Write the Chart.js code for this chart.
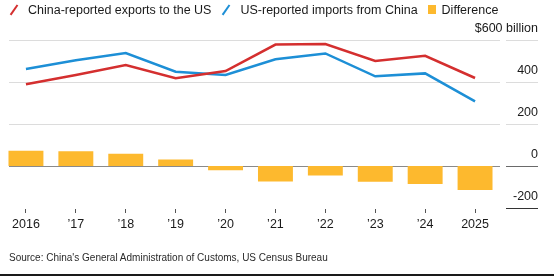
<!DOCTYPE html>
<html><head><meta charset="utf-8">
<script src="https://cdn.jsdelivr.net/npm/chart.js@4.4.1/dist/chart.umd.min.js"></script>
<style>
html,body{margin:0;padding:0;background:#fff;}
#wrap{position:relative;width:554px;height:276px;overflow:hidden;font-family:"Liberation Sans",Arial,sans-serif;color:#1a1a1a;}
#c{position:absolute;left:0;top:0;}
#legend{position:absolute;left:9px;top:1px;height:17px;display:flex;align-items:center;font-size:12.5px;white-space:nowrap;}
.item{display:flex;align-items:center;margin-right:10px;}
.slash{width:10px;height:12px;position:relative;margin-right:9px;}
.slash i{position:absolute;left:4px;top:0;width:2.4px;height:12px;transform:rotate(35deg);}
.sq{width:8px;height:8.5px;margin-right:6px;}
#source{position:absolute;left:9px;top:252px;font-size:10px;color:#2a2a2a;white-space:nowrap;}
#bottomline{position:absolute;left:0;right:0;bottom:0;height:2px;background:#1a1a1a;}
</style></head>
<body><div id="wrap">
<canvas id="c" width="554" height="276"></canvas>
<div id="legend">
 <div class="item"><span class="slash"><i style="background:#d42f2f"></i></span>China-reported exports to the US</div>
 <div class="item"><span class="slash"><i style="background:#1d8fd6"></i></span>US-reported imports from China</div>
 <div class="item"><span class="sq" style="background:#fdb92e"></span>Difference</div>
</div>
<div id="source">Source: China's General Administration of Customs, US Census Bureau</div>
<div id="bottomline"></div>
</div>
<script>
const categories = ["2016","\u201917","\u201918","\u201919","\u201920","\u201921","\u201922","\u201923","\u201924","2025"];
const chinaExports = [389, 433, 481, 418, 452, 578, 581, 500, 525, 419];
const usImports = [462, 504, 538, 449, 433, 508, 536, 427, 441, 308];
const difference = [72, 70, 58, 31, -20, -74, -46, -75, -86, -114];
const yTicks = [600, 400, 200, 0, -200];
const yTickLabels = ["$600 billion", "400", "200", "0", "-200"];

const gridPlugin = {
  id: 'customGrid',
  beforeDatasetsDraw(chart) {
    const ctx = chart.ctx, y = chart.scales.y, area = chart.chartArea;
    ctx.save();
    yTicks.forEach((v) => {
      const py = Math.round(y.getPixelForValue(v)) + 0.5;
      if (v !== -200) {
        ctx.strokeStyle = v === 0 ? '#8a8a8a' : '#dcdcdc';
        ctx.lineWidth = 1;
        ctx.beginPath(); ctx.moveTo(9, py); ctx.lineTo(area.right, py); ctx.stroke();
      }
      ctx.strokeStyle = v === 0 ? '#6a6a6a' : (v === -200 ? '#333' : '#dcdcdc');
      ctx.beginPath(); ctx.moveTo(506, py); ctx.lineTo(538, py); ctx.stroke();
    });
    ctx.restore();
  },
  afterDraw(chart) {
    const ctx = chart.ctx, y = chart.scales.y;
    ctx.save();
    ctx.fillStyle = '#1a1a1a';
    ctx.font = '12.5px "Liberation Sans", Arial, sans-serif';
    ctx.textAlign = 'right';
    ctx.textBaseline = 'middle';
    yTicks.forEach((v, i) => {
      ctx.fillText(yTickLabels[i], 538, y.getPixelForValue(v) - 11);
    });
    ctx.restore();
  }
};

new Chart(document.getElementById('c'), {
  data: {
    labels: categories,
    datasets: [
      { type: 'line', label: 'China-reported exports to the US', data: chinaExports,
        borderColor: '#d42f2f', borderWidth: 2.5, pointRadius: 0, tension: 0, order: 1 },
      { type: 'line', label: 'US-reported imports from China', data: usImports,
        borderColor: '#1d8fd6', borderWidth: 2.5, pointRadius: 0, tension: 0, order: 2 },
      { type: 'bar', label: 'Difference', data: difference, backgroundColor: '#fdb92e',
        barPercentage: 0.7, categoryPercentage: 1.0, order: 3 }
    ]
  },
  options: {
    responsive: false,
    animation: false,
    layout: { padding: { left: 1, right: 54, top: 40, bottom: 37 } },
    plugins: { legend: { display: false }, tooltip: { enabled: false } },
    scales: {
      x: {
        offset: true,
        grid: { display: true, drawOnChartArea: false, offset: false, tickLength: 4, color: '#555', tickWidth: 1 },
        border: { display: false },
        ticks: { color: '#1a1a1a', font: { family: '"Liberation Sans", Arial, sans-serif', size: 12.5 }, padding: 4, maxRotation: 0, autoSkip: false },
        afterFit(s) { s.height = 30; }
      },
      y: {
        display: false,
        min: -205, max: 600,
        ticks: { stepSize: 200, includeBounds: false }
      }
    }
  },
  plugins: [gridPlugin]
});
</script>
</body></html>
